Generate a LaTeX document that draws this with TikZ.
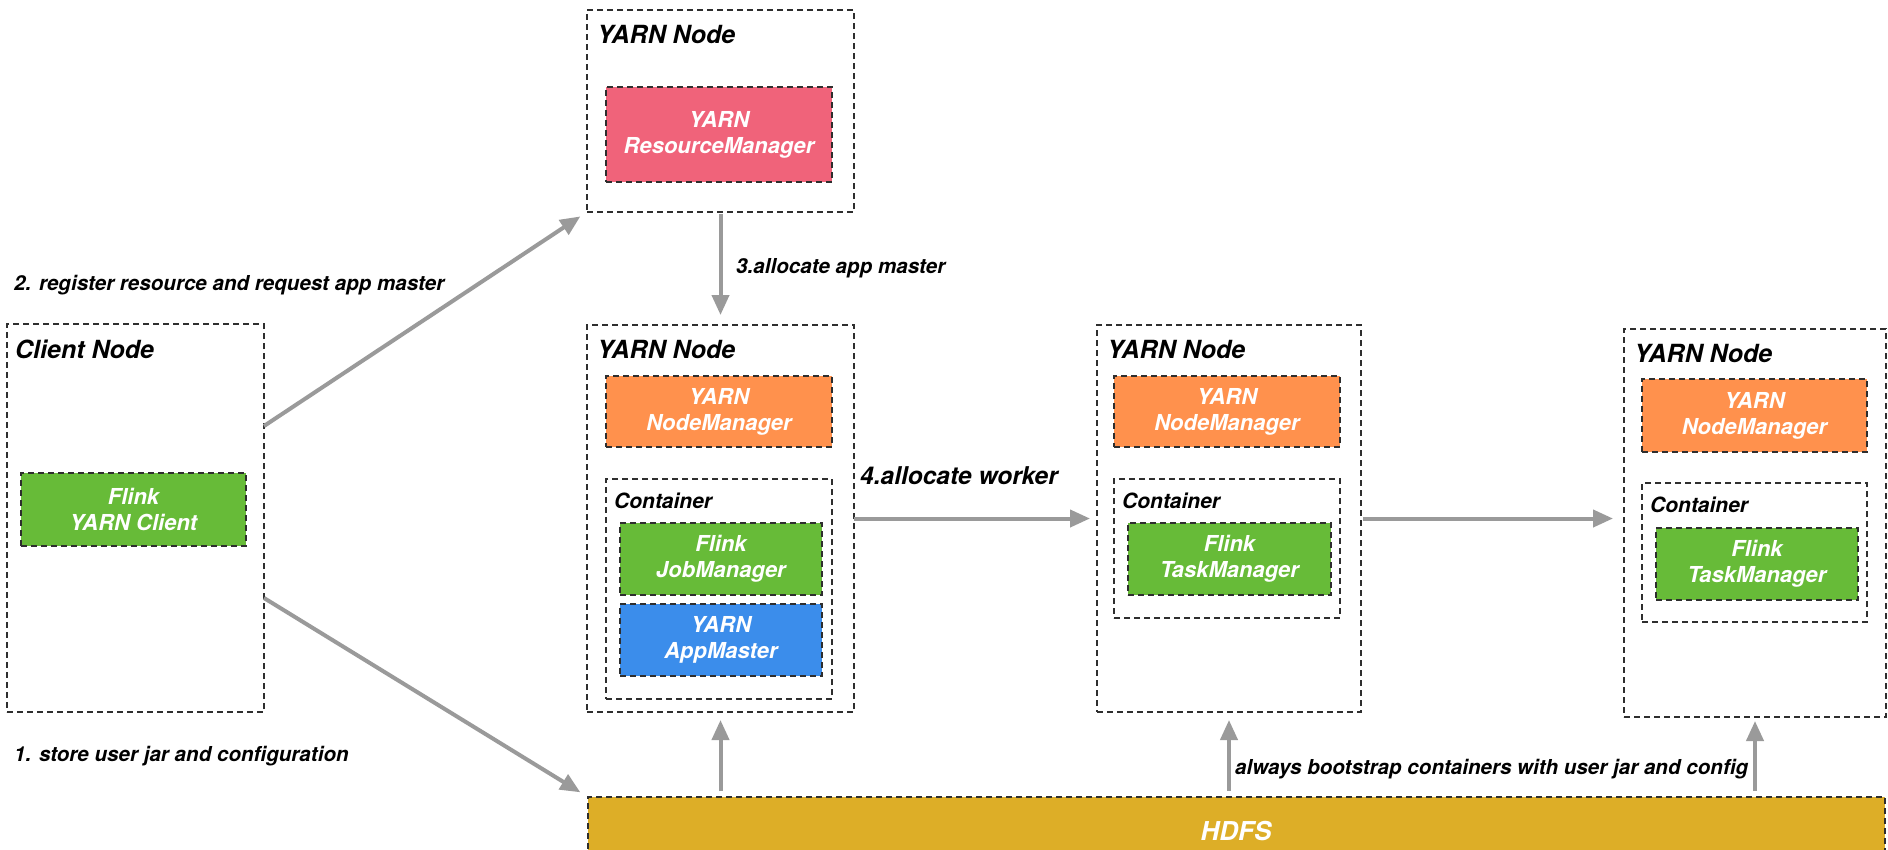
\documentclass[tikz,border=0pt]{standalone}
\usepackage{fontspec}
\setmainfont{TeX Gyre Heros}
\usetikzlibrary{arrows.meta,calc}
\definecolor{rmred}{HTML}{F0637A}
\definecolor{nmorange}{HTML}{FF914D}
\definecolor{flgreen}{HTML}{67BB38}
\definecolor{amblue}{HTML}{3B8DEB}
\definecolor{hdfsgold}{HTML}{DDAE27}
\definecolor{arrgray}{HTML}{9A9A9A}
\definecolor{dashcol}{HTML}{2E2E2E}
\tikzset{
  frame/.style={draw=dashcol, line width=1.4pt, dash pattern=on 6pt off 4pt, rectangle, anchor=north west, inner sep=0pt, outer sep=0pt},
  cbox/.style={frame, text=white, align=center, font=\fontsize{22}{26}\selectfont\bfseries\itshape},
  ttl/.style={anchor=base west, inner sep=0pt, font=\fontsize{25}{30}\selectfont\bfseries\itshape},
  cttl/.style={anchor=base west, inner sep=0pt, font=\fontsize{21}{25}\selectfont\bfseries\itshape},
  lbl/.style={anchor=west, inner sep=0pt, font=\fontsize{20.6}{25}\selectfont\bfseries\itshape},
  arr/.style={draw=arrgray, line width=4pt, -{Triangle[length=20pt,width=17pt]}},
}
\begin{document}
\begin{tikzpicture}[x=1pt,y=-1pt]
\clip (0,0) rectangle (1888,849);
\fill[white] (0,0) rectangle (1888,849);

% client node
\node[frame, minimum width=257, minimum height=388] (client) at (7,324) {};
\node[ttl] (tclient) at ([xshift=8pt,yshift=-34pt]client.north west) {Client Node};
\node[cbox, fill=flgreen, minimum width=225, minimum height=73] (fyc) at (21,473) {Flink\\YARN Client};

% top yarn node
\node[frame, minimum width=267, minimum height=202] (yn0) at (587,10) {};
\node[ttl] (t0) at ([xshift=10pt,yshift=-33pt]yn0.north west) {YARN Node};
\node[cbox, fill=rmred, minimum width=226, minimum height=95] (rm) at (606,87) {YARN\\ResourceManager};

% yarn node 1
\node[frame, minimum width=267, minimum height=387] (yn1) at (587,325) {};
\node[ttl] (t1) at ([xshift=10pt,yshift=-33pt]yn1.north west) {YARN Node};
\node[cbox, fill=nmorange, minimum width=226, minimum height=71] (nm1) at (606,376) {YARN\\NodeManager};
\node[frame, minimum width=226, minimum height=220] (c1) at (606,479) {};
\node[cttl] (tc1) at ([xshift=8pt,yshift=-29pt]c1.north west) {Container};
\node[cbox, fill=flgreen, minimum width=202, minimum height=72] (jm) at (620,523) {Flink\\JobManager};
\node[cbox, fill=amblue, minimum width=202, minimum height=72] (am) at (620,604) {YARN\\AppMaster};

% yarn node 2
\node[frame, minimum width=264, minimum height=387] (yn2) at (1097,325) {};
\node[ttl] (t2) at ([xshift=10pt,yshift=-33pt]yn2.north west) {YARN Node};
\node[cbox, fill=nmorange, minimum width=226, minimum height=71] (nm2) at (1114,376) {YARN\\NodeManager};
\node[frame, minimum width=226, minimum height=139] (c2) at (1114,479) {};
\node[cttl] (tc2) at ([xshift=8pt,yshift=-29pt]c2.north west) {Container};
\node[cbox, fill=flgreen, minimum width=203, minimum height=72] (tm2) at (1128,523) {Flink\\TaskManager};

% yarn node 3
\node[frame, minimum width=262, minimum height=388] (yn3) at (1624,329) {};
\node[ttl] (t3) at ([xshift=10pt,yshift=-33pt]yn3.north west) {YARN Node};
\node[cbox, fill=nmorange, minimum width=225, minimum height=73] (nm3) at (1642,379) {YARN\\NodeManager};
\node[frame, minimum width=225, minimum height=139] (c3) at (1642,483) {};
\node[cttl] (tc3) at ([xshift=8pt,yshift=-29pt]c3.north west) {Container};
\node[cbox, fill=flgreen, minimum width=202, minimum height=72] (tm3) at (1656,528) {Flink\\TaskManager};

% HDFS
\node[cbox, fill=hdfsgold, minimum width=1297, minimum height=60] (hdfs) at (588,797) {};
\node[text=white, font=\fontsize{26}{30}\selectfont\bfseries\itshape, inner sep=0pt] (thdfs) at (1236,831) {HDFS};

% arrows
\draw[arr, shorten >=8pt] ([yshift=92pt]client.east) -- (yn0.south west);
\draw[arr, shorten >=9pt] ([yshift=-80pt]client.east) -- (hdfs.north west);
\draw[arr, shorten <=2pt, shorten >=10pt] (yn0.south) -- (yn1.north);
\draw[arr, shorten >=7pt] (yn1.east) -- (yn2.west);
\draw[arr, shorten <=2pt, shorten >=11pt] (yn2.east) -- (yn2.east -| yn3.west);
\draw[arr, shorten <=6pt, shorten >=8pt] (hdfs.north -| yn1.south) -- (yn1.south);
\draw[arr, shorten <=6pt, shorten >=8pt] (hdfs.north -| yn2.south) -- (yn2.south);
\draw[arr, shorten <=6pt, shorten >=4pt] (hdfs.north -| yn3.south) -- (yn3.south);

% labels
\node[lbl] (l2) at (14,285) {2. register resource and request app master};
\node[lbl] (l3) at (736,268) {3.allocate app master};
\node[lbl, font=\fontsize{24.5}{28}\selectfont\bfseries\itshape] (l4) at (860,476) {4.allocate worker};
\node[lbl] (l1) at (14,756) {1. store user jar and configuration};
\node[lbl] (la) at (1235,769) {always bootstrap containers with user jar and config};
\end{tikzpicture}
\end{document}
